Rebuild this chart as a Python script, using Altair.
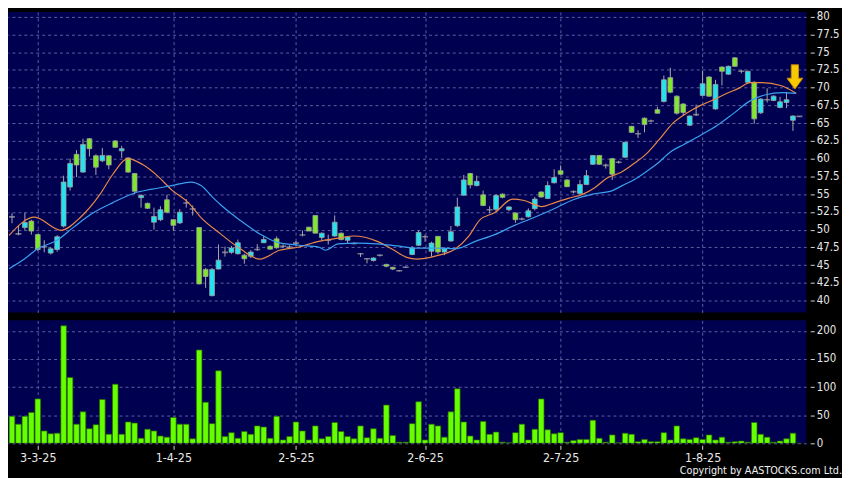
import altair as alt
import pandas as pd

# ---------------- data ----------------
opens = [51.8, 49.4, 50.3, 51.2, 49.3, 47.6, 46.7, 47.2, 50.5, 56.0,
         60.6, 58.1, 62.8, 60.4, 59.7, 60.4, 62.5, 61.1, 60.1, 57.9,
         54.5, 53.7, 51.05, 51.4, 54.2, 51.4, 50.95, 53.75, 52.9, 50.3,
         44.4, 40.7, 44.45, 46.8, 46.8, 46.6, 46.4, 46.25, 47.2, 48.15,
         47.65, 48.7, 47.65, 47.55, 48.1, 49.25, 50.35, 52.0, 48.9, 48.5,
         49.1, 49.5, 48.5, 48.05, 46.6, 45.9, 45.65, 46.4, 45.1, 44.7,
         44.2, 44.7, 46.5, 47.8, 49.0, 46.95, 49.05, 46.85, 48.4, 50.55,
         54.85, 57.9, 56.2, 54.9, 52.8, 52.85, 55.0, 52.8, 52.35, 51.5,
         51.8, 52.95, 55.3, 54.4, 56.6, 58.3, 57.0, 55.35, 55.1, 56.35,
         59.2, 60.45, 59.05, 60.0, 59.5, 60.2, 64.55, 63.5, 65.7, 65.3,
         66.9, 68.05, 71.4, 68.8, 67.7, 64.7, 66.2, 68.9, 71.5, 67.0,
         72.9, 71.9, 74.2, 72.3, 70.75, 70.75, 66.45, 68.3, 68.2, 67.2,
         67.9, 65.4, 65.95]
highs = [52.3, 50.6, 52.4, 51.4, 49.4, 48.5, 47.5, 49.2, 57.6, 60.0,
         61.2, 62.8, 62.9, 60.6, 61.5, 60.5, 62.6, 61.8, 60.2, 58.0,
         55.0, 53.8, 53.1, 53.3, 54.9, 51.5, 52.9, 54.3, 53.4, 50.3,
         44.6, 44.6, 47.9, 47.6, 47.7, 48.6, 46.6, 47.1, 47.95, 49.1,
         47.8, 49.05, 47.9, 47.8, 48.4, 49.9, 50.4, 52.0, 49.6, 49.3,
         52.0, 49.6, 49.0, 48.2, 46.7, 45.95, 46.1, 46.5, 45.2, 44.75,
         44.3, 44.8, 47.7, 49.9, 49.3, 48.3, 49.1, 47.5, 50.5, 54.5,
         57.7, 58.0, 57.6, 55.5, 53.3, 55.0, 55.1, 53.3, 52.4, 51.7,
         53.0, 54.6, 55.4, 56.8, 58.5, 59.05, 57.1, 55.5, 57.0, 58.4,
         60.5, 60.5, 59.3, 60.1, 59.7, 62.4, 64.6, 64.0, 65.8, 65.5,
         67.3, 71.7, 72.8, 68.9, 67.8, 66.1, 67.6, 72.4, 71.6, 71.1,
         73.0, 73.1, 74.3, 72.5, 72.4, 70.9, 68.5, 69.9, 68.9, 68.7,
         69.4, 66.1, 66.0]
lows = [50.9, 49.2, 49.9, 49.3, 47.0, 46.8, 46.5, 46.9, 50.3, 55.5,
        57.4, 58.0, 60.3, 57.7, 59.5, 58.5, 61.5, 60.1, 58.0, 55.0,
        53.1, 52.9, 50.0, 51.2, 52.3, 49.8, 50.8, 53.1, 52.0, 42.3,
        41.8, 40.6, 44.4, 46.2, 46.6, 46.5, 45.2, 46.0, 47.0, 48.1,
        47.2, 47.3, 47.4, 47.3, 47.7, 49.05, 49.8, 49.5, 48.5, 47.9,
        49.0, 48.5, 48.0, 47.9, 46.15, 45.25, 45.5, 46.2, 44.7, 44.3,
        44.1, 44.6, 46.4, 47.7, 48.3, 46.2, 46.6, 46.4, 48.3, 50.4,
        54.8, 55.8, 56.1, 53.3, 52.3, 52.5, 54.4, 52.6, 50.95, 51.3,
        51.7, 52.7, 54.5, 54.3, 56.5, 57.7, 56.0, 55.1, 55.0, 56.3,
        59.1, 59.1, 58.6, 57.0, 59.3, 60.1, 63.6, 62.9, 63.7, 65.1,
        66.3, 67.9, 69.2, 66.2, 66.0, 64.6, 66.0, 68.8, 68.7, 66.9,
        70.3, 71.8, 72.9, 72.0, 70.6, 64.9, 66.3, 67.9, 68.1, 67.1,
        67.1, 63.9, 65.9]
closes = [51.8, 49.4, 51.0, 49.8, 47.2, 47.6, 47.3, 49.0, 56.7, 59.3,
          59.1, 62.0, 61.4, 58.8, 60.45, 59.1, 61.6, 61.4, 58.1, 55.4,
          54.8, 53.0, 51.85, 52.8, 52.45, 50.6, 52.45, 53.75, 52.9, 42.35,
          43.4, 44.4, 45.7, 46.8, 47.4, 48.15, 45.9, 46.85, 47.2, 48.6,
          47.25, 47.45, 47.65, 47.55, 48.1, 49.25, 49.8, 49.5, 49.5, 48.5,
          51.05, 48.6, 48.95, 48.05, 46.6, 45.9, 46.0, 46.4, 44.85, 44.45,
          44.2, 44.7, 47.4, 49.6, 49.0, 48.1, 46.85, 47.3, 49.7, 53.2,
          57.0, 56.3, 56.8, 53.4, 52.8, 54.8, 54.55, 53.2, 51.4, 51.5,
          52.65, 54.3, 54.6, 56.2, 57.35, 57.8, 56.05, 55.35, 56.35, 57.6,
          60.45, 59.2, 59.05, 57.8, 59.5, 62.3, 63.7, 63.5, 64.8, 65.3,
          66.4, 71.1, 69.35, 66.4, 66.5, 66.0, 66.2, 70.55, 68.8, 70.45,
          72.3, 73.0, 73.0, 72.3, 72.3, 65.6, 68.4, 68.3, 68.8, 68.0,
          68.3, 66.0, 65.95]
volumes = [48, 34, 48, 55, 79, 22, 17, 18, 209, 117,
           34, 56, 26, 33, 78, 16, 105, 16, 38, 36,
           9, 25, 22, 13, 11, 46, 34, 34, 8, 166,
           73, 35, 129, 12, 19, 9, 21, 16, 31, 29,
           9, 48, 6, 12, 38, 22, 6, 31, 8, 12,
           37, 21, 12, 8, 31, 10, 26, 9, 68, 14,
           2, 2, 35, 74, 6, 34, 31, 11, 56, 97,
           38, 13, 6, 39, 16, 20, 2, 1, 19, 34,
           6, 25, 79, 24, 17, 19, 2, 5, 7, 7,
           41, 9, 2, 15, 1, 18, 16, 3, 7, 3,
           3, 19, 6, 31, 8, 7, 10, 7, 15, 6,
           11, 2, 3, 4, 2, 37, 16, 11, 2, 4,
           8, 18, 0]

# short moving average (orange), sampled along the drawn curve
ma_s_pos = [-0.46, 3.49, 7.59, 10.62, 13.66, 15.63, 17.91, 20.18, 22.76, 24.73,
            27.31, 29.29, 32.32, 35.36, 38.39, 41.43, 44.46, 47.5, 50.53, 52.96,
            56.6, 59.18, 61.15, 62.67, 65.71, 68.74, 70.71, 72.53, 74.81, 77.54,
            79.36, 82.09, 84.22, 86.19, 88.47, 90.29, 92.26, 94.23, 96.36, 98.33,
            100.3, 102.4, 104.7, 106.7, 108.7, 110.8, 112.8, 114.3, 116.2, 119.1,
            121.5]
ma_s_val = [49.2, 51.75, 49.9, 51.75, 55.0, 57.8, 60.0, 59.2, 57.4, 55.6,
            53.8, 51.7, 49.4, 47.3, 45.85, 47.1, 47.55, 48.35, 48.8, 49.1,
            48.35, 47.1, 46.1, 45.85, 46.3, 47.3, 49.0, 51.4, 52.4, 54.3,
            54.1, 53.25, 53.84, 54.4, 55.0, 55.9, 57.3, 58.0, 59.3, 60.7,
            62.7, 65.0, 66.5, 67.5, 68.3, 69.2, 70.0, 70.7, 70.7, 70.3,
            69.2]
# long moving average (blue)
ma_l_pos = [-0.46, 1.97, 3.95, 6.98, 9.56, 12.29, 15.63, 19.12, 21.7, 24.73,
            27.77, 29.29, 31.26, 32.32, 35.36, 38.39, 40.97, 44.46, 47.5, 48.56,
            50.53, 53.57, 56.6, 59.64, 62.67, 65.71, 68.74, 71.78, 74.81, 77.85,
            80.88, 83.92, 86.95, 89.98, 93.02, 94.54, 96.51, 98.33, 99.85, 102.1,
            104.1, 106.7, 109.3, 111.7, 114.3, 116.8, 119.3, 121.5]
ma_l_val = [44.5, 45.9, 47.3, 48.5, 50.35, 52.2, 53.8, 55.2, 55.7, 56.2,
            56.7, 56.2, 54.4, 53.5, 51.3, 49.4, 48.25, 47.8, 47.55, 47.1,
            48.0, 48.1, 48.0, 47.7, 47.4, 47.4, 47.3, 48.35, 49.3, 50.6,
            51.7, 52.9, 54.2, 55.0, 55.5, 56.2, 57.1, 58.2, 59.2, 61.0,
            62.0, 63.3, 64.7, 66.3, 68.1, 69.0, 69.3, 69.2]

date_tick_idx = [4, 25, 44, 64, 85, 107]
date_tick_lbl = ["3-3-25", "1-4-25", "2-5-25", "2-6-25", "2-7-25", "1-8-25"]
price_ticks = [40, 42.5, 45, 47.5, 50, 52.5, 55, 57.5, 60, 62.5, 65, 67.5, 70, 72.5, 75, 77.5, 80]
vol_ticks = [0, 50, 100, 150, 200]
copyright_txt = "Copyright by AASTOCKS.com Ltd."

# ---------------- tables ----------------
n = len(opens)
df = pd.DataFrame({"i": list(range(n)), "open": opens, "high": highs,
                   "low": lows, "close": closes, "vol": volumes})
df["dir"] = ["up" if c > o else ("down" if c < o else "flat") for o, c in zip(opens, closes)]
ma_s = pd.DataFrame({"i": ma_s_pos, "p": ma_s_val})
ma_l = pd.DataFrame({"i": ma_l_pos, "p": ma_l_val})
arrow = pd.DataFrame({"i": [ma_s_pos[-1] - 0.2], "p": [ma_s_val[-1] + 2.3]})
copy_df = pd.DataFrame({"t": [copyright_txt]})

W = 805
FONT = "DejaVu Sans Condensed, DejaVu Sans"
xs = alt.Scale(domain=[0.15, 122.3], nice=False, zero=False)
ys = alt.Scale(domain=[38.34, 80.66], nice=False, zero=False)
vs = alt.Scale(domain=[0, 218.7], nice=False, zero=True)

lbl_expr = " : ".join(f"datum.value == {k} ? '{t}'" for k, t in zip(date_tick_idx, date_tick_lbl)) + " : ''"

x_price_axis = alt.Axis(values=date_tick_idx, labels=False, ticks=False, domain=False, grid=True)
y_price_axis = alt.Axis(orient="right", values=price_ticks, format=".1~f", grid=True,
                        domain=False, tickSize=4, offset=4, labelPadding=2, labelOverlap=False,
                        tickColor="#d8d8d8", labelColor="#e8e8e8", labelFont=FONT,
                        labelFontSize=11.5, title=None)


def px(field="i"):
    return alt.X(f"{field}:Q", scale=xs, title=None, axis=x_price_axis)


def py(field):
    return alt.Y(f"{field}:Q", scale=ys, title=None, axis=y_price_axis)


wicks = alt.Chart(df).mark_rule(color="#a8a8a8", strokeWidth=1, clip=True).encode(
    x=px(), y=py("low"), y2="high:Q")
bodies = alt.Chart(df).transform_filter("datum.dir != 'flat'").mark_bar(
    size=4.8, stroke="#a0a0a0", strokeWidth=0.8, clip=True).encode(
    x=px(), y=py("open"), y2="close:Q",
    color=alt.Color("dir:N", scale=alt.Scale(domain=["up", "down"], range=["#22e3f0", "#80e82a"]), legend=None))
dojis = alt.Chart(df).transform_filter("datum.dir == 'flat'").mark_tick(
    orient="horizontal", size=6, thickness=1.6, color="#a8a8a8", clip=True).encode(x=px(), y=py("open"))
line_s = alt.Chart(ma_s).mark_line(color="#e8884a", strokeWidth=1.2, clip=True, interpolate="monotone").encode(
    x=px(), y=py("p"))
line_l = alt.Chart(ma_l).mark_line(color="#3aa0f0", strokeWidth=1.2, clip=True, interpolate="monotone").encode(
    x=px(), y=py("p"))
arrow_mark = alt.Chart(arrow).mark_point(
    shape="M -0.3 -1 L 0.3 -1 L 0.3 0.1 L 0.65 0.1 L 0 1 L -0.65 0.1 L -0.3 0.1 Z",
    size=600, filled=True, fill="#f8c800", stroke="#c88a00", strokeWidth=1, opacity=1).encode(
    x=px(), y=py("p"))

price = alt.layer(wicks, bodies, dojis, line_s, line_l, arrow_mark).properties(width=W, height=303)

x_vol = alt.X("i:Q", scale=xs, title=None,
              axis=alt.Axis(values=date_tick_idx, labelExpr=lbl_expr, grid=True, domain=False,
                            tickSize=4, offset=2, labelPadding=2, tickColor="#d8d8d8",
                            labelColor="#e8e8e8", labelFont=FONT, labelFontSize=12.5))
vol_bars = alt.Chart(df).mark_bar(size=5.6, fill="#66ff00", stroke="#2a6a00", strokeWidth=0.7, clip=True).encode(
    x=x_vol,
    y=alt.Y("vol:Q", scale=vs, title=None,
            axis=alt.Axis(orient="right", values=vol_ticks, grid=True, domain=False, tickSize=4, offset=4,
                          labelPadding=2, tickColor="#d8d8d8", labelColor="#e8e8e8", labelOverlap=False,
                          labelFont=FONT, labelFontSize=11.5)))
copy_text = alt.Chart(copy_df).mark_text(align="right", baseline="middle", color="#f0f0f0",
                                         font=FONT, fontSize=10.8).encode(
    x=alt.value(841), y=alt.value(152), text="t:N")
volume = alt.layer(vol_bars, copy_text).properties(width=W, height=124)

chart = alt.vconcat(price, volume, spacing=8).properties(padding=0).configure(
    background="black").configure_view(fill="#000050", stroke=None).configure_axis(
    gridColor="#5e5e9e", gridDash=[3, 3], gridWidth=1, gridOpacity=1)

chart.save("out.html", embed_options={"renderer": "svg", "actions": False})
